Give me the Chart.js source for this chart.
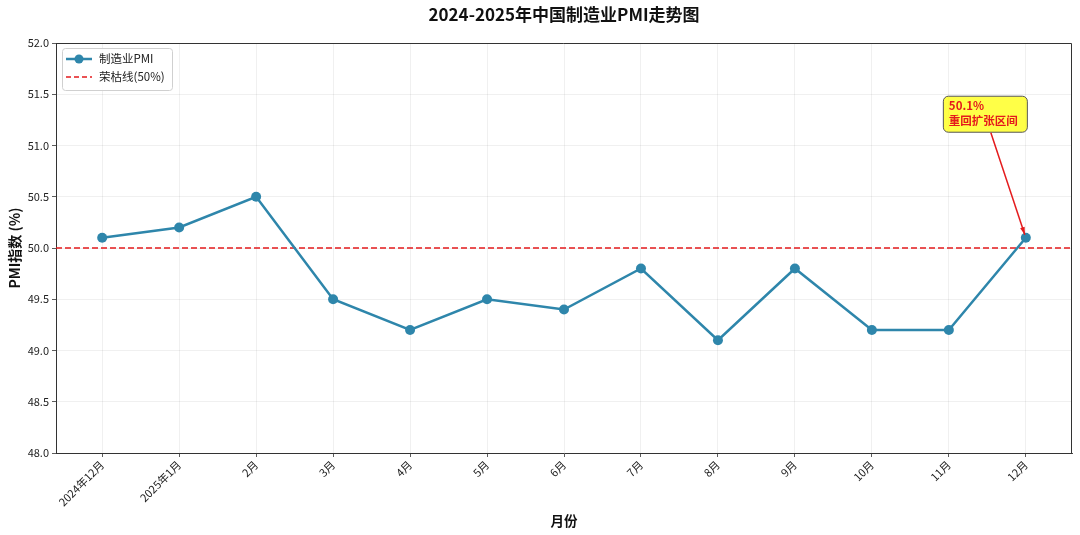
<!DOCTYPE html>
<html>
<head>
<meta charset="utf-8">
<script src="https://cdn.jsdelivr.net/npm/chart.js@4"></script>
<style>
  html, body { margin: 0; padding: 0; background: #fff; }
  #wrap { width: 1080px; height: 535px; }
</style>
</head>
<body>
<div id="wrap"><canvas id="pmiChart" width="1080" height="535"></canvas></div>
<script>
// data
const months = ['2024年12月', '2025年1月', '2月', '3月', '4月', '5月', '6月', '7月', '8月', '9月', '10月', '11月', '12月']
const pmi = [50.1, 50.2, 50.5, 49.5, 49.2, 49.5, 49.4, 49.8, 49.1, 49.8, 49.2, 49.2, 50.1]
const threshold = 50
const yTicks = [48.0, 48.5, 49.0, 49.5, 50.0, 50.5, 51.0, 51.5, 52.0]

const FONT = "'Noto Sans CJK SC', 'Noto Sans', sans-serif"
const lineColor = '#2E86AB'

// build points for the linear x scale
const pmiPoints = pmi.map((v, i) => ({x: i, y: v}))
const xMin = -0.6, xMax = months.length - 1 + 0.6
const threshPoints = [{x: xMin, y: threshold}, {x: xMax, y: threshold}]

//frame, in-axes legend and annotation
const extras = {
    id: 'extras',
    afterDraw(chart) {
        const ctx = chart.ctx
        const a = chart.chartArea
        const xs = chart.scales.x, ys = chart.scales.y
        ctx.save()

        // top & right spines
        ctx.strokeStyle = '#333'
        ctx.lineWidth = 1
        ctx.beginPath()
        ctx.moveTo(a.left, a.top + 0.5)
        ctx.lineTo(a.right - 0.5, a.top + 0.5)
        ctx.lineTo(a.right - 0.5, a.bottom)
        ctx.stroke()

        // legend box
        const lx = a.left + 6, ly = a.top + 5
        ctx.fillStyle = 'rgba(255,255,255,0.85)'
        ctx.strokeStyle = '#d0d0d0'
        ctx.beginPath()
        ctx.roundRect(lx + 0.5, ly + 0.5, 110, 42, 3)
        ctx.fill()
        ctx.stroke()

        ctx.strokeStyle = lineColor
        ctx.lineWidth = 2.5
        ctx.beginPath()
        ctx.moveTo(lx + 4, ly + 11)
        ctx.lineTo(lx + 30, ly + 11)
        ctx.stroke()
        ctx.fillStyle = lineColor
        ctx.beginPath()
        ctx.arc(lx + 17, ly + 11, 4.5, 0, Math.PI * 2)
        ctx.fill()

        ctx.strokeStyle = '#e41a1c'
        ctx.lineWidth = 1.5
        ctx.setLineDash([5, 3])
        ctx.beginPath()
        ctx.moveTo(lx + 4, ly + 29)
        ctx.lineTo(lx + 30, ly + 29)
        ctx.stroke()
        ctx.setLineDash([])

        ctx.fillStyle = '#222'
        ctx.font = '11.5px ' + FONT
        ctx.textBaseline = 'middle'
        ctx.textAlign = 'left'
        ctx.fillText('制造业PMI', lx + 37, ly + 11)
        ctx.fillText('荣枯线(50%)', lx + 37, ly + 29)

        // annotation: box + arrow to last point
        const last = pmi.length - 1
        const px = xs.getPixelForValue(last), py = ys.getPixelForValue(pmi[last])
        const tx = xs.getPixelForValue(last - 1), ty = ys.getPixelForValue(51.31)
        const bx = tx - 6, by = ty - 18, bw = 84, bh = 36
        ctx.fillStyle = 'rgba(255,255,0,0.72)'
        ctx.strokeStyle = '#555'
        ctx.lineWidth = 1
        ctx.beginPath()
        ctx.roundRect(bx + 0.5, by + 0.5, bw, bh, 5)
        ctx.fill()
        ctx.stroke()
        ctx.fillStyle = '#e41a1c'
        ctx.font = 'bold 11.5px ' + FONT
        ctx.fillText(pmi[last].toFixed(1) + '%', tx, ty - 8)
        ctx.fillText('重回扩张区间', tx, ty + 7)

        const sx = bx + 48, sy = by + bh + 1
        const ex = px - 1, ey = py - 3
        const ang = Math.atan2(ey - sy, ex - sx)
        ctx.strokeStyle = '#e41a1c'
        ctx.lineWidth = 1.5
        ctx.beginPath()
        ctx.moveTo(sx, sy)
        ctx.lineTo(ex, ey)
        ctx.stroke()
        ctx.fillStyle = '#e41a1c'
        ctx.beginPath()
        ctx.moveTo(ex, ey)
        ctx.lineTo(ex - 8 * Math.cos(ang - 0.3), ey - 8 * Math.sin(ang - 0.3))
        ctx.lineTo(ex - 8 * Math.cos(ang + 0.3), ey - 8 * Math.sin(ang + 0.3))
        ctx.closePath()
        ctx.fill()

        ctx.restore()
    }
}

const gridStyle = {
    color: 'rgba(0,0,0,0.08)',
    tickColor: '#333',
    tickLength: 4,
    lineWidth: 0.8
}

const config = {
    type: 'line',
    data: {
        datasets: [{
            label: '制造业PMI',
            data: pmiPoints,
            borderColor: lineColor,
            backgroundColor: lineColor,
            borderWidth: 2.5,
            pointRadius: 5,
            pointBorderWidth: 0,
            pointHoverRadius: 5,
            tension: 0
        }, {
            label: '荣枯线(50%)',
            data: threshPoints,
            borderColor: '#e41a1c',
            borderWidth: 1.5,
            borderDash: [6, 3],
            pointRadius: 0,
            tension: 0
        }]
    },
    options: {
        responsive: false,
        animation: false,
        layout: {padding: {left: 0, right: 8, top: 0, bottom: 0}},
        plugins: {
            legend: {display: false},
            tooltip: {enabled: false},
            title: {
                display: true,
                text: '2024-2025年中国制造业PMI走势图',
                fullSize: false,
                color: '#111',
                font: {family: FONT, size: 17, weight: 'bold', lineHeight: 1.2},
                padding: {top: 4, bottom: 18.6}
            }
        },
        scales: {
            x: {
                type: 'linear',
                min: xMin,
                max: xMax,
                afterBuildTicks: s => { s.ticks = months.map((m, i) => ({value: i})) },
                afterFit: s => { s.height = 82 },
                ticks: {
                    callback: v => months[v],
                    autoSkip: false,
                    maxRotation: 45,
                    minRotation: 45,
                    color: '#222',
                    padding: 1,
                    font: {family: FONT, size: 11}
                },
                grid: gridStyle,
                border: {color: '#333', width: 1},
                title: {
                    display: true,
                    text: '月份',
                    color: '#111',
                    font: {family: FONT, size: 13.5, weight: 'bold'},
                    padding: {top: 0, bottom: 6}
                }
            },
            y: {
                min: 48,
                max: 52,
                afterBuildTicks: s => { s.ticks = yTicks.map(v => ({value: v})) },
                afterFit: s => { s.width = 56 },
                ticks: {
                    callback: v => v.toFixed(1),
                    color: '#222',
                    padding: 3,
                    font: {family: FONT, size: 11}
                },
                grid: gridStyle,
                border: {color: '#333', width: 1},
                title: {
                    display: true,
                    text: 'PMI指数 (%)',
                    color: '#111',
                    font: {family: FONT, size: 14, weight: 'bold'},
                    padding: {top: 6, bottom: 0}
                }
            }
        }
    },
    plugins: [extras]
}

const pmiChart = new Chart(document.getElementById('pmiChart'), config)
</script>
</body>
</html>
